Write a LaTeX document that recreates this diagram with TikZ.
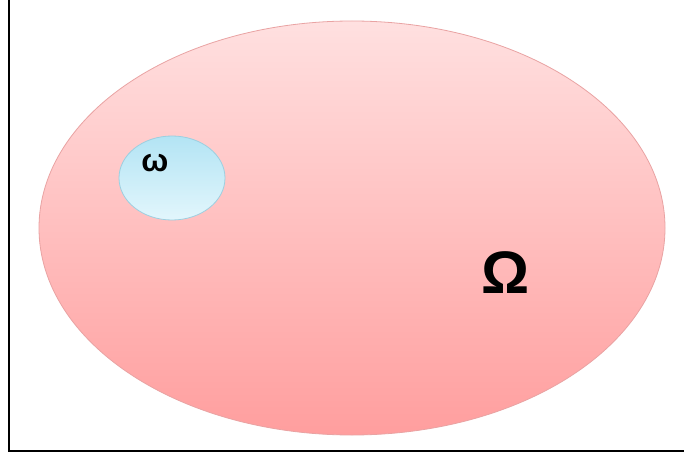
\documentclass[tikz,border=0pt]{standalone}
\usepackage{fontspec}
\setmainfont{Liberation Sans}
\usetikzlibrary{shapes.geometric}
\definecolor{pinktop}{HTML}{FFE0E0}
\definecolor{pinkbot}{HTML}{FF9E9E}
\definecolor{pinkedge}{HTML}{E9A3A3}
\definecolor{bluetop}{HTML}{B3E4F4}
\definecolor{bluebot}{HTML}{E2F6FC}
\definecolor{blueedge}{HTML}{9CCFE0}
\tikzset{
  bigset/.style={ellipse, minimum width=626pt, minimum height=414pt, inner sep=0pt,
    top color=pinktop, bottom color=pinkbot, draw=pinkedge, line width=0.8pt},
  smallset/.style={ellipse, minimum width=106pt, minimum height=84pt, inner sep=0pt,
    top color=bluetop, bottom color=bluebot, draw=blueedge, line width=0.8pt},
  frameline/.style={line width=2.6pt, black}
}
\begin{document}
\begin{tikzpicture}[x=1pt, y=-1pt]
\useasboundingbox (0,0) rectangle (684,457);
\fill[white] (0,0) rectangle (684,457);
\coordinate (ftop) at (9,0);
\coordinate (fcorner) at (9,451);
\coordinate (fright) at (684,451);
\draw[frameline] (ftop) -- (fcorner) -- (fright);
\node[bigset] (Om) at (352,228) {};
\node[smallset] (om) at (172,178) {};
\node[font=\bfseries\fontsize{32}{32}\selectfont] (omlab) at (155,163) {ω};
\node[font=\bfseries\fontsize{60}{60}\selectfont] (Omlab) at (506,273) {Ω};
\end{tikzpicture}
\end{document}
